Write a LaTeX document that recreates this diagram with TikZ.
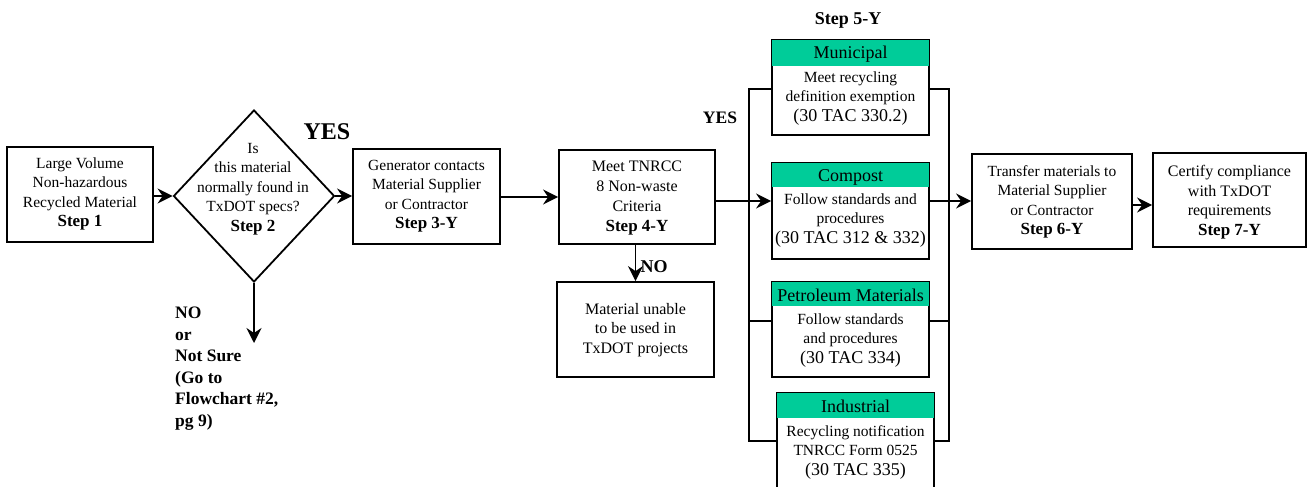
\documentclass[tikz,border=0pt]{standalone}
\usepackage{fontspec}
\setmainfont{Liberation Serif}
\usetikzlibrary{arrows.meta,shapes.geometric,calc}
\definecolor{hdrgreen}{RGB}{0,204,153}
\tikzset{
  bx/.style={draw, line width=1.8pt, inner sep=0pt},
  txt/.style={align=center, inner sep=0pt, font=\fontsize{15.5}{19.5}\selectfont},
  hdr/.style={inner sep=0pt, font=\fontsize{18}{20}\selectfont},
  lbl/.style={inner sep=0pt, font=\bfseries\fontsize{17.5}{21.5}\selectfont},
  con/.style={line width=1.8pt},
  arr/.style={line width=1.8pt, -{Stealth[length=15pt,width=15pt,inset=5pt]}},
}
\newcommand{\stp}[1]{{\bfseries\fontsize{17}{19}\selectfont #1}}
\newcommand{\tac}[1]{{\fontsize{18}{20}\selectfont #1}}
\begin{document}
\begin{tikzpicture}[x=1pt,y=-1pt]
\useasboundingbox (0,0) rectangle (1307,487);

% Step 1
\node[bx, minimum width=146, minimum height=95] (s1) at (80,194.5) {};
\node[txt] (s1t) at (80,194) {Large Volume\\Non-hazardous\\Recycled Material\\\stp{Step 1}};

% Step 2 diamond
\node[draw, line width=1.8pt, diamond, inner sep=0pt, minimum width=161, minimum height=172] (d2) at (254,196) {};
\node[txt] (d2t) at (253,189) {Is\\this material\\normally found in\\TxDOT specs?\\\stp{Step 2}};
\node[lbl, font=\bfseries\fontsize{24}{26}\selectfont] (yes1) at (327,132) {YES};
\coordinate (d2end) at (254,343);
\node[lbl, align=left, anchor=west] (no1) at (175,368.5) {NO\\or\\Not Sure\\(Go to\\Flowchart \#2,\\pg 9)};

% Step 3
\node[bx, minimum width=147, minimum height=95] (s3) at (426.5,196.5) {};
\node[txt] (s3t) at (426.5,196) {Generator contacts\\Material Supplier\\or Contractor\\\stp{Step 3-Y}};

% Step 4
\node[bx, minimum width=156, minimum height=94] (s4) at (637,197) {};
\node[txt, font=\fontsize{16}{20}\selectfont] (s4t) at (637,198) {Meet TNRCC\\8 Non-waste\\Criteria\\\stp{Step 4-Y}};
\node[bx, minimum width=157, minimum height=95] (nb) at (635.5,329.5) {};
\node[txt, font=\fontsize{16}{19.5}\selectfont] (nbt) at (635.5,330) {Material unable\\to be used in\\TxDOT projects};
\node[lbl, font=\bfseries\fontsize{18}{20}\selectfont] (no2) at (654,267) {NO};
\node[lbl] (yes2) at (720,118) {YES};

% Step 5 options
\node[lbl, font=\bfseries\fontsize{18}{20}\selectfont] (s5) at (848,20) {Step 5-Y};

\node[bx, minimum width=157, minimum height=95] (mun) at (850.5,87.5) {};
\fill[hdrgreen] ($(mun.north west)+(0.9,0.9)$) rectangle ($(mun.north east)+(-0.9,27)$);
\node[hdr] (munh) at (850.5,54) {Municipal};
\node[txt] (munt) at (850.5,98.5) {Meet recycling\\definition exemption\\\tac{(30 TAC 330.2)}};

\node[bx, minimum width=157, minimum height=96] (comp) at (850.5,211) {};
\fill[hdrgreen] ($(comp.north west)+(0.9,0.9)$) rectangle ($(comp.north east)+(-0.9,25)$);
\node[hdr] (comph) at (850.5,177) {Compost};
\node[txt] (compt) at (850.5,220.5) {Follow standards and\\procedures\\\tac{(30 TAC 312 \& 332)}};

\node[bx, minimum width=157, minimum height=95] (pet) at (850.5,329.5) {};
\fill[hdrgreen] ($(pet.north west)+(0.9,0.9)$) rectangle ($(pet.north east)+(-0.9,25)$);
\node[hdr] (peth) at (850.5,295) {Petroleum Materials};
\node[txt] (pett) at (850.5,340.5) {Follow standards\\and procedures\\\tac{(30 TAC 334)}};

\node[bx, minimum width=157, minimum height=100] (ind) at (855.5,443) {};
\fill[hdrgreen] ($(ind.north west)+(0.9,0.9)$) rectangle ($(ind.north east)+(-0.9,26)$);
\node[hdr] (indh) at (855.5,406) {Industrial};
\node[txt] (indt) at (855.5,452) {Recycling notification\\TNRCC Form 0525\\\tac{(30 TAC 335)}};

% Step 6, 7
\node[bx, minimum width=160, minimum height=95] (s6) at (1052,201.5) {};
\node[txt] (s6t) at (1052,202) {Transfer materials to\\Material Supplier\\or Contractor\\\stp{Step 6-Y}};
\node[bx, minimum width=153, minimum height=94] (s7) at (1229.5,200) {};
\node[txt, font=\fontsize{16}{19.5}\selectfont] (s7t) at (1229.5,202) {Certify compliance\\with TxDOT\\requirements\\\stp{Step 7-Y}};

% bracket coordinates
\coordinate (lt) at (749,89);
\coordinate (lb) at (749,441);
\coordinate (rt) at (949,89);
\coordinate (rb) at (949,441);
\coordinate (pl) at (749,321);
\coordinate (ya) at (0,201);
\coordinate (yb) at (0,205);

% connectors
\draw[arr] (s1.east |- d2.west) -- (d2.west);
\draw[arr] (d2.east) -- (s3.west |- d2.east);
\draw[arr] (d2.south) -- (d2end);
\draw[arr] (s3.east |- s4.west) -- (s4.west);
\draw[arr] (s4.east |- ya) -- (comp.west |- ya);
\draw[arr] (nb.north |- s4.south) -- (nb.north);
\draw[con] (mun.west |- lt) -- (lt) -- (lb) -- (ind.west |- lb);
\draw[con] (mun.east |- rt) -- (rt) -- (rb) -- (ind.east |- rb);
\draw[con] (pl) -- (pet.west |- pl);
\draw[con] (pet.east |- pl) -- (rt |- pl);
\draw[arr] (comp.east |- ya) -- (s6.west |- ya);
\draw[arr] (s6.east |- yb) -- (s7.west |- yb);
\end{tikzpicture}
\end{document}
